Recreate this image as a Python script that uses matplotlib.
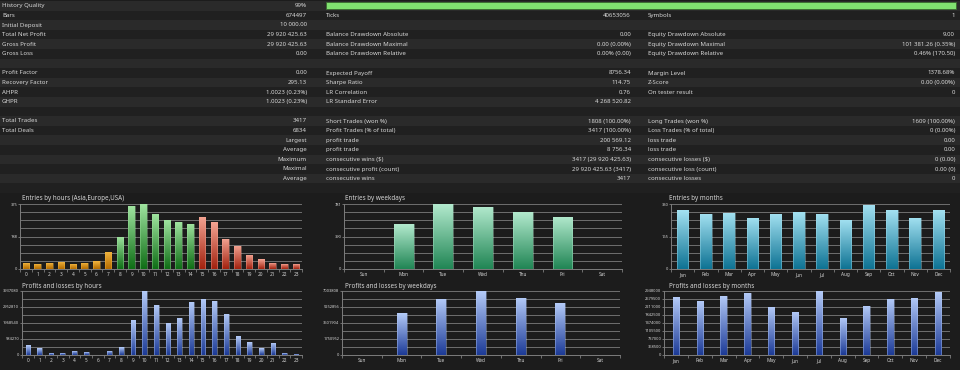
import numpy as np
import matplotlib
matplotlib.use("Agg")
import matplotlib.pyplot as plt
from matplotlib.colors import LinearSegmentedColormap
from matplotlib.patches import Rectangle

plt.rcParams["font.family"] = ["Noto Sans", "DejaVu Sans"]

W, H = 960, 370
BG = "#1c1c1c"
ROW_A = "#2a2a2a"
ROW_B = "#202020"
TXT = "#d6d6d6"
GRID = "#7c7c7c"

# ---- report table: (left label, left value, mid label, mid value, right label, right value)
rows = [
    ("History Quality", "99%", None, None, None, None),
    ("Bars", "674497", "Ticks", "40653056", "Symbols", "1"),
    ("Initial Deposit", "10 000.00", "", "", "", ""),
    ("Total Net Profit", "29 920 425.63", "Balance Drawdown Absolute", "0.00", "Equity Drawdown Absolute", "9.00"),
    ("Gross Profit", "29 920 425.63", "Balance Drawdown Maximal", "0.00 (0.00%)", "Equity Drawdown Maximal", "101 381.26 (0.35%)"),
    ("Gross Loss", "0.00", "Balance Drawdown Relative", "0.00% (0.00)", "Equity Drawdown Relative", "0.46% (170.50)"),
    ("", "", "", "", "", ""),
    ("Profit Factor", "0.00", "Expected Payoff", "8756.34", "Margin Level", "1378.68%"),
    ("Recovery Factor", "295.13", "Sharpe Ratio", "114.75", "Z-Score", "0.00 (0.00%)"),
    ("AHPR", "1.0023 (0.23%)", "LR Correlation", "0.76", "On tester result", "0"),
    ("GHPR", "1.0023 (0.23%)", "LR Standard Error", "4 268 520.82", "", ""),
    ("", "", "", "", "", ""),
    ("Total Trades", "3417", "Short Trades (won %)", "1808 (100.00%)", "Long Trades (won %)", "1609 (100.00%)"),
    ("Total Deals", "6834", "Profit Trades (% of total)", "3417 (100.00%)", "Loss Trades (% of total)", "0 (0.00%)"),
    ("", "Largest", "profit trade", "200 569.12", "loss trade", "0.00"),
    ("", "Average", "profit trade", "8 756.34", "loss trade", "0.00"),
    ("", "Maximum", "consecutive wins ($)", "3417 (29 920 425.63)", "consecutive losses ($)", "0 (0.00)"),
    ("", "Maximal", "consecutive profit (count)", "29 920 425.63 (3417)", "consecutive loss (count)", "0.00 (0)"),
    ("", "Average", "consecutive wins", "3417", "consecutive losses", "0"),
    ("", "", "", "", "", ""),
]

# ---- chart data
hours = [str(h) for h in range(24)]
session = ["asia"] * 8 + ["europe"] * 7 + ["usa"] * 9
hour_entries = [37, 29, 35, 41, 29, 35, 46, 99, 186, 361, 375, 317,
                280, 271, 261, 302, 269, 174, 133, 81, 56, 35, 29, 29]
hour_pl = [612000, 428000, 143000, 143000, 265000, 204000, 20000, 265000,
           490000, 2142000, 3937080, 3080000, 1999000, 2285000, 3264000,
           3468000, 3345000, 2530000, 1163000, 796000, 428000, 755000,
           143000, 82000]

weekdays = ["Sun", "Mon", "Tue", "Wed", "Thu", "Fri", "Sat"]
wd_entries = [0, 539, 781, 745, 680, 628, 0]
wd_pl = [0, 4572000, 6169000, 7003808, 6278000, 5661000, 0]

months = ["Jan", "Feb", "Mar", "Apr", "May", "Jun",
          "Jul", "Aug", "Sep", "Oct", "Nov", "Dec"]
m_entries = [298, 281, 286, 260, 281, 287, 281, 250, 327, 298, 260, 301]
m_pl = [2658000, 2505000, 2734000, 2856000, 2215000, 1986000,
        2948000, 1711000, 2276000, 2581000, 2627000, 2902000]

# y-axis tick labels shown by the tester
hour_entries_ticks = ["0", "188", "375"]
wd_entries_ticks = ["0", "390", "781"]
m_entries_ticks = ["0", "165", "330"]
hour_pl_ticks = ["0", "984270", "1968540", "2952810", "3937080"]
wd_pl_ticks = ["0", "1750952", "3501904", "5252856", "7003808"]
m_pl_ticks = ["0", "368500", "737000", "1105500", "1474000",
              "1842500", "2211000", "2579500", "2948000"]

session_colors = {"asia": ("#f2b640", "#b56c00"),
                  "europe": ("#9fe39f", "#0f6e16"),
                  "usa": ("#f4a493", "#a3220f")}
BLUE = ("#b4cbf8", "#1d3b97")

fig = plt.figure(figsize=(W / 100, H / 100), dpi=100, facecolor=BG)
bg = fig.add_axes([0, 0, 1, 1])
bg.set_xlim(0, W)
bg.set_ylim(H, 0)
bg.axis("off")

row_h = 9.6
fs = 4.4
for i, r in enumerate(rows):
    y0 = i * row_h + 1
    bg.add_patch(Rectangle((0, y0), W, row_h, color=ROW_A if i % 2 == 0 else ROW_B, lw=0))
    yc = y0 + row_h / 2
    ll, lv, ml, mv, rl, rv = r
    bg.text(2, yc, ll, color=TXT, fontsize=fs, va="center", ha="left")
    bg.text(307, yc, lv, color=TXT, fontsize=fs, va="center", ha="right")
    if ml is None:
        bg.add_patch(Rectangle((326, y0 + 0.8), 630, row_h - 2, facecolor="#80e070",
                               edgecolor="#3a6a30", lw=0.6))
        continue
    bg.text(326, yc, ml, color=TXT, fontsize=fs, va="center", ha="left")
    bg.text(631, yc, mv, color=TXT, fontsize=fs, va="center", ha="right")
    bg.text(648, yc, rl, color=TXT, fontsize=fs, va="center", ha="left")
    bg.text(955, yc, rv, color=TXT, fontsize=fs, va="center", ha="right")


def px_axes(x0, y0, x1, y1):
    return fig.add_axes([x0 / W, 1 - y1 / H, (x1 - x0) / W, (y1 - y0) / H])


def grad_bars(ax, vals, width, pairs):
    xs = np.arange(len(vals)) + 0.5
    bars = ax.bar(xs, vals, width, color="none", lw=0, zorder=3)
    grad = np.linspace(0, 1, 64).reshape(-1, 1)
    for b, (top, bot) in zip(bars, pairs):
        h = b.get_height()
        if h <= 0:
            continue
        cmap = LinearSegmentedColormap.from_list("g", [bot, top])
        x0 = b.get_x()
        im = ax.imshow(grad, cmap=cmap, origin="lower", aspect="auto",
                       extent=(x0, x0 + b.get_width(), 0, h), zorder=3)
        im.set_clip_path(b)
        ax.add_patch(Rectangle((x0, 0), b.get_width(), h, fill=False,
                               edgecolor=top, lw=0.4, alpha=0.7, zorder=4))


def chart(rect, title, cats, vals, width, pairs, ymax, ticklabels, tx, ty):
    ax = px_axes(*rect)
    ax.set_facecolor("none")
    grad_bars(ax, vals, width, pairs)
    n = len(cats)
    ax.set_xlim(0, n)
    ax.set_ylim(0, ymax)
    for k in range(1, 9):
        ax.axhline(ymax * k / 8, color=GRID, lw=0.6, zorder=1)
    ax.set_xticks(np.arange(n) + 0.5)
    ax.set_xticklabels(cats, fontsize=3.4, color=TXT)
    ax.set_xticks(np.arange(n + 1), minor=True)
    ax.tick_params(axis="x", which="major", length=0, pad=2.5)
    ax.tick_params(axis="x", which="minor", length=2.5, color=GRID, width=0.6)
    step = 8 // (len(ticklabels) - 1)
    ax.set_yticks([ymax * k * step / 8 for k in range(len(ticklabels))])
    ax.set_yticklabels(ticklabels, fontsize=2.9, color=TXT)
    ax.tick_params(axis="y", length=1.2, color=GRID, width=0.6, pad=0.8)
    for s in ["top", "right"]:
        ax.spines[s].set_visible(False)
    for s in ["left", "bottom"]:
        ax.spines[s].set_color(GRID)
        ax.spines[s].set_linewidth(0.7)
    bg.text(tx, ty, title, color=TXT, fontsize=4.5, va="center", ha="left")
    return ax


chart((20, 204, 302, 269), "Entries by hours (Asia,Europe,USA)", hours, hour_entries, 0.55,
      [session_colors[s] for s in session], 375, hour_entries_ticks, 22, 199)
chart((344, 204, 622, 269), "Entries by weekdays", weekdays, wd_entries, 0.5,
      [("#b2e9cd", "#218655")] * 7, 781, wd_entries_ticks, 345, 199)
chart((671, 204, 950, 269), "Entries by months", months, m_entries, 0.5,
      [("#a3e1f1", "#0e7394")] * 12, 330, m_entries_ticks, 669, 199)

chart((22, 291, 302, 355), "Profits and losses by hours", hours, hour_pl, 0.4,
      [BLUE] * 24, 3937080, hour_pl_ticks, 22, 286)
chart((342, 291, 620, 355), "Profits and losses by weekdays", weekdays, wd_pl, 0.25,
      [BLUE] * 7, 7003808, wd_pl_ticks, 345, 286)
chart((664, 291, 950, 355), "Profits and losses by months", months, m_pl, 0.27,
      [BLUE] * 12, 2948000, m_pl_ticks, 669, 286)

fig.savefig("out.png", dpi=100, facecolor=BG)
